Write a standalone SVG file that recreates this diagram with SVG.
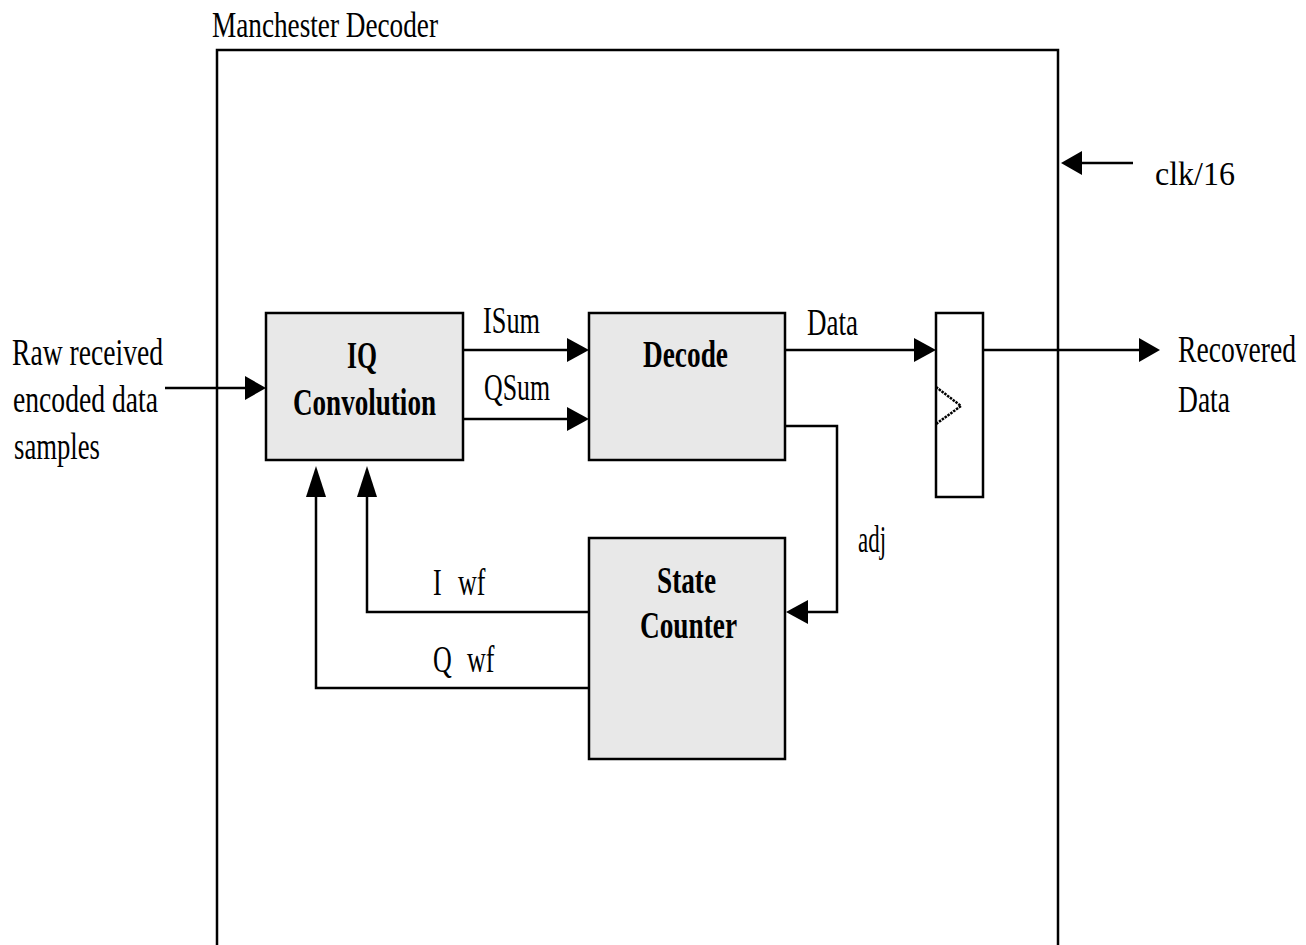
<svg xmlns="http://www.w3.org/2000/svg" width="1306" height="945" viewBox="0 0 1306 945">
<style>
.t{font-family:"Liberation Serif","Times New Roman",serif;font-size:26px;fill:#000}
.b{font-weight:bold}
.box{fill:#e8e8e8;stroke:#000;stroke-width:2.5}
.w{fill:none;stroke:#000;stroke-width:2.5}
.ah{fill:#000;stroke:none}
</style>
<rect width="1306" height="945" fill="#fff"/>
<g id="decoder">
<rect x="217" y="50" width="841" height="900" fill="none" stroke="#000" stroke-width="2.5"/>
<text class="t" transform="translate(212,37) scale(1,1.4)" textLength="226" lengthAdjust="spacingAndGlyphs">Manchester Decoder</text>
</g>
<g id="iq">
<rect class="box" x="266" y="313" width="197" height="147"/>
<text class="t b" transform="translate(347,368) scale(1,1.45)" textLength="30" lengthAdjust="spacingAndGlyphs">IQ</text>
<text class="t b" transform="translate(293,415) scale(1,1.45)" textLength="143" lengthAdjust="spacingAndGlyphs">Convolution</text>
</g>
<g id="decode">
<rect class="box" x="589" y="313" width="196" height="147"/>
<text class="t b" transform="translate(643,367) scale(1,1.45)" textLength="85" lengthAdjust="spacingAndGlyphs">Decode</text>
</g>
<g id="state">
<rect class="box" x="589" y="538" width="196" height="221"/>
<text class="t b" transform="translate(657,593) scale(1,1.45)" textLength="59" lengthAdjust="spacingAndGlyphs">State</text>
<text class="t b" transform="translate(640,638) scale(1,1.45)" textLength="97" lengthAdjust="spacingAndGlyphs">Counter</text>
</g>
<g id="ff">
<rect x="936" y="313" width="47" height="184" fill="#fff" stroke="#000" stroke-width="2.5"/>
<polyline points="936,387 961,406 936,424" fill="none" stroke="#000" stroke-width="2.5" stroke-dasharray="2.5,1"/>
</g>
<g id="labels">
<text class="t" transform="translate(12,365) scale(1,1.45)" textLength="151" lengthAdjust="spacingAndGlyphs">Raw received</text>
<text class="t" transform="translate(13,412) scale(1,1.45)" textLength="145" lengthAdjust="spacingAndGlyphs">encoded data</text>
<text class="t" transform="translate(14,459) scale(1,1.45)" textLength="86" lengthAdjust="spacingAndGlyphs">samples</text>
<text class="t" transform="translate(1178,362) scale(1,1.45)" textLength="118" lengthAdjust="spacingAndGlyphs">Recovered</text>
<text class="t" transform="translate(1178,412) scale(1,1.45)" textLength="52" lengthAdjust="spacingAndGlyphs">Data</text>
<text class="t" transform="translate(1155,185) scale(1,1.3)" textLength="80" lengthAdjust="spacingAndGlyphs">clk/16</text>
</g>
<g id="connectors">
<line class="w" x1="165" y1="388" x2="250" y2="388"/>
<polygon class="ah" points="245,376 266,388 245,400"/>
<line class="w" x1="463" y1="350" x2="572" y2="350"/>
<polygon class="ah" points="567,338 589,350 567,362"/>
<line class="w" x1="463" y1="419" x2="572" y2="419"/>
<polygon class="ah" points="567,407 589,419 567,431"/>
<line class="w" x1="785" y1="350" x2="918" y2="350"/>
<polygon class="ah" points="914,338 936,350 914,362"/>
<line class="w" x1="983" y1="350" x2="1145" y2="350"/>
<polygon class="ah" points="1139,338 1160,350 1139,362"/>
<polyline class="w" points="785,426 837,426 837,612 803,612"/>
<polygon class="ah" points="808,600 786,612 808,624"/>
<polyline class="w" points="589,612 367,612 367,480"/>
<polygon class="ah" points="357,497 367,466 377,497"/>
<polyline class="w" points="589,688 316,688 316,480"/>
<polygon class="ah" points="306,497 316,466 326,497"/>
<line class="w" x1="1133" y1="163" x2="1075" y2="163"/>
<polygon class="ah" points="1082,151 1061,163 1082,175"/>
<text class="t" transform="translate(483,333) scale(1,1.45)" textLength="57" lengthAdjust="spacingAndGlyphs">ISum</text>
<text class="t" transform="translate(484,400) scale(1,1.45)" textLength="66" lengthAdjust="spacingAndGlyphs">QSum</text>
<text class="t" transform="translate(807,335) scale(1,1.45)" textLength="51" lengthAdjust="spacingAndGlyphs">Data</text>
<text class="t" transform="translate(858,552) scale(1,1.45)" textLength="28" lengthAdjust="spacingAndGlyphs">adj</text>
<text class="t" transform="translate(433,595) scale(1,1.45)">I <tspan x="25">wf</tspan></text>
<text class="t" transform="translate(433,672) scale(1,1.45)">Q <tspan x="34">wf</tspan></text>
</g>
</svg>
